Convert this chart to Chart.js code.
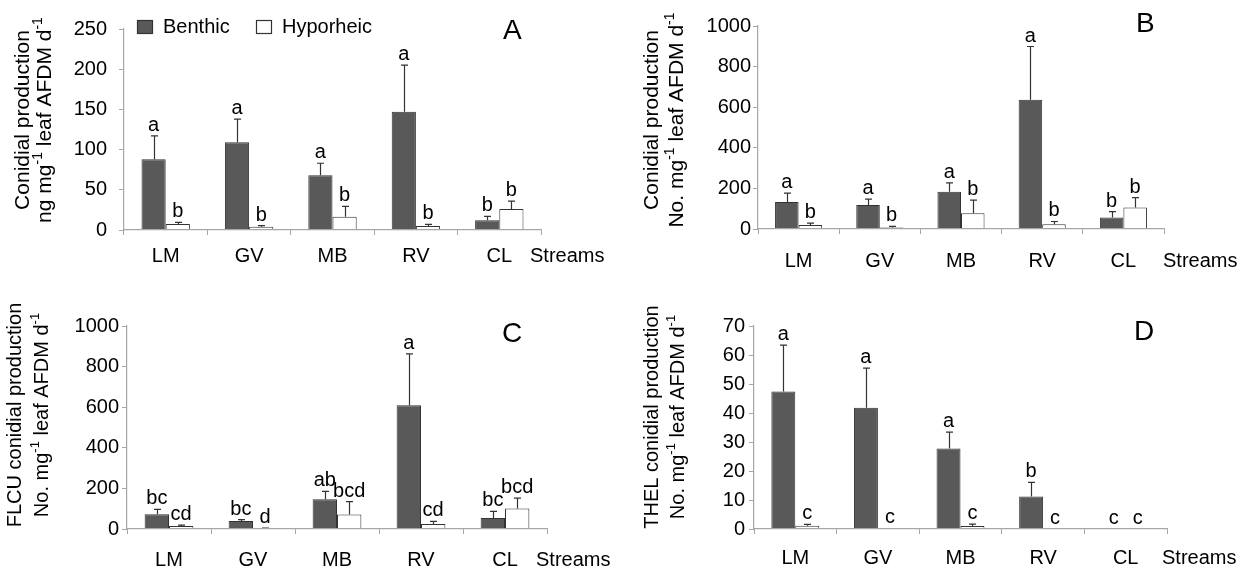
<!DOCTYPE html>
<html>
<head>
<meta charset="utf-8">
<script src="https://cdn.jsdelivr.net/npm/chart.js@4.4.0/dist/chart.umd.min.js"></script>
<style>
  html, body { margin: 0; padding: 0; background: #fff; }
  #wrap { position: relative; width: 1243px; height: 572px; }
  canvas { position: absolute; }
</style>
</head>
<body>
<div id="wrap">
  <canvas id="cA" width="621" height="286" style="left:0;top:0;width:621px;height:286px"></canvas>
  <canvas id="cB" width="622" height="286" style="left:621px;top:0;width:622px;height:286px"></canvas>
  <canvas id="cC" width="621" height="286" style="left:0;top:286px;width:621px;height:286px"></canvas>
  <canvas id="cD" width="622" height="286" style="left:621px;top:286px;width:622px;height:286px"></canvas>
</div>
<script>
// ---- data ----
const streams = ['LM', 'GV', 'MB', 'RV', 'CL'];
const seriesNames = ['Benthic', 'Hyporheic'];

// A: conidial production (ng mg-1 leaf AFDM d-1)
const benthicA    = [88, 109, 68, 147, 12];
const benthicErrA = [29, 29, 15, 58, 5];
const benthicLetA = ['a', 'a', 'a', 'a', 'b'];
const hypoA       = [7.5, 4, 16.5, 5, 26];
const hypoErrA    = [2, 1.5, 13, 2, 10];
const hypoLetA    = ['b', 'b', 'b', 'b', 'b'];
const yTicksA     = [0, 50, 100, 150, 200, 250];

// B: conidial production (No. mg-1 leaf AFDM d-1)
const benthicB    = [133, 118, 183, 637, 57];
const benthicErrB = [44, 29, 44, 262, 29];
const benthicLetB = ['a', 'a', 'a', 'a', 'b'];
const hypoB       = [20, 8, 77, 24, 106];
const hypoErrB    = [9, 5, 65, 13, 49];
const hypoLetB    = ['b', 'b', 'b', 'b', 'b'];
const yTicksB     = [0, 200, 400, 600, 800, 1000];

// C: FLCU conidial production
const benthicC    = [73, 40, 147, 610, 54];
const benthicErrC = [24, 6, 38, 253, 33];
const benthicLetC = ['bc', 'bc', 'ab', 'a', 'bc'];
const hypoC       = [15, 3, 71, 25, 101];
const hypoErrC    = [4, 2, 64, 13, 51];
const hypoLetC    = ['cd', 'd', 'bcd', 'cd', 'bcd'];
const yTicksC     = [0, 200, 400, 600, 800, 1000];

// D: THEL conidial production
const benthicD    = [47.4, 41.8, 27.8, 11.2, 0];
const benthicErrD = [16, 13.7, 5.6, 4.9, 0];
const benthicLetD = ['a', 'a', 'a', 'b', 'c'];
const hypoD       = [1.1, 0.3, 1, 0.1, 0];
const hypoErrD    = [0.5, 0, 0.7, 0, 0];
const hypoLetD    = ['c', 'c', 'c', 'c', 'c'];
const yTicksD     = [0, 10, 20, 30, 40, 50, 60, 70];

const FONT = "'Liberation Sans', Arial, Helvetica, sans-serif";
const DARK = '#595959';
const EDGE = '#333333';
const AXIS = '#a6a6a6';
const TXT = 20;

// rotated title line with "^-1" superscripts
function drawRotated(ctx, text, cx, cy, size) {
  const parts = text.split(/\^(-?\d+)/);
  const segs = parts.map((t, i) => ({ t, sup: i % 2 === 1 })).filter(s => s.t);
  let w = 0;
  segs.forEach(s => {
    ctx.font = `${s.sup ? Math.round(size * 0.65) : size}px ${FONT}`;
    s.w = ctx.measureText(s.t).width;
    w += s.w;
  });
  ctx.save();
  ctx.translate(cx, cy);
  ctx.rotate(-Math.PI / 2);
  ctx.textAlign = 'left';
  ctx.textBaseline = 'middle';
  let x = -w / 2;
  segs.forEach(s => {
    ctx.font = `${s.sup ? Math.round(size * 0.65) : size}px ${FONT}`;
    ctx.fillText(s.t, x, s.sup ? -size * 0.33 : 0);
    x += s.w;
  });
  ctx.restore();
}

const deco = {
  id: 'deco',
  afterDatasetsDraw(chart, args, o) {
    const ctx = chart.ctx, ys = chart.scales.y;
    ctx.save();
    ctx.strokeStyle = EDGE;
    ctx.lineWidth = 1.2;
    ctx.fillStyle = '#000';
    ctx.font = `${TXT}px ${FONT}`;
    ctx.textAlign = 'center';
    ctx.textBaseline = 'alphabetic';
    chart.data.datasets.forEach((ds, di) => {
      chart.getDatasetMeta(di).data.forEach((bar, i) => {
        const yTop = ys.getPixelForValue(ds.data[i] + ds.err[i]);
        const x = Math.round(bar.x) + 0.5;
        if (ds.err[i] > 0) {
          ctx.beginPath();
          ctx.moveTo(x, bar.y);
          ctx.lineTo(x, yTop);
          ctx.moveTo(x - 3.5, yTop);
          ctx.lineTo(x + 3.5, yTop);
          ctx.stroke();
        }
        ctx.fillText(ds.letters[i], bar.x, yTop - 5);
      });
    });
    ctx.restore();
  },
  afterDraw(chart, args, o) {
    const ctx = chart.ctx;
    ctx.save();
    ctx.fillStyle = '#000';
    // axis title, two lines
    o.title.forEach((line, i) => drawRotated(ctx, line, o.titleX[i], o.titleY, o.titleSize));
    // panel letter
    ctx.font = `28px ${FONT}`;
    ctx.textAlign = 'left';
    ctx.textBaseline = 'alphabetic';
    ctx.fillText(o.panel, o.panelX, o.panelY);
    // "Streams" after the last category
    ctx.font = `${TXT}px ${FONT}`;
    ctx.textBaseline = 'middle';
    ctx.fillText('Streams', o.streamsX, o.catY);
    // legend (panel A only)
    if (o.legend) {
      const fills = [DARK, '#ffffff'];
      o.legend.forEach((lg, i) => {
        ctx.fillStyle = fills[i];
        ctx.fillRect(lg.x + 0.5, 20.5, 15, 13);
        ctx.strokeStyle = EDGE;
        ctx.lineWidth = 1.2;
        ctx.strokeRect(lg.x + 0.5, 20.5, 15, 13);
        ctx.fillStyle = '#000';
        ctx.font = `${TXT}px ${FONT}`;
        ctx.fillText(seriesNames[i], lg.x + 26, 27);
      });
    }
    ctx.restore();
  }
};

function makePanel(id, L, benthic, bErr, bLet, hypo, hErr, hLet, yTicks, title) {
  const canvas = document.getElementById(id);
  const W = canvas.width, H = canvas.height;
  const xH = 40;
  new Chart(canvas, {
    type: 'bar',
    data: {
      labels: streams,
      datasets: [
        { label: seriesNames[0], data: benthic, err: bErr, letters: bLet,
          backgroundColor: DARK, borderColor: EDGE, borderWidth: 1 },
        { label: seriesNames[1], data: hypo, err: hErr, letters: hLet,
          backgroundColor: '#ffffff', borderColor: EDGE, borderWidth: 1 }
      ]
    },
    options: {
      responsive: false,
      animation: false,
      events: [],
      layout: { padding: { left: 0, top: L.t, right: W - L.r, bottom: H - L.b - xH } },
      datasets: { bar: { categoryPercentage: 0.58, barPercentage: 1.0 } },
      plugins: {
        legend: { display: false },
        tooltip: { enabled: false },
        deco: {
          title, titleX: L.titleX, titleY: L.titleY, titleSize: L.titleSize,
          panel: L.panel, panelX: L.panelX, panelY: L.panelY,
          streamsX: L.streamsX, catY: L.catY, legend: L.legend
        }
      },
      scales: {
        x: {
          afterFit: s => { s.height = xH; },
          grid: { drawOnChartArea: false, drawTicks: true, tickLength: 5, color: AXIS, offset: true },
          border: { display: true, color: AXIS, width: 1.2, z: 1 },
          ticks: { color: '#000', font: { family: FONT, size: TXT }, padding: L.catY - L.b - 5 - TXT * 0.6, maxRotation: 0 }
        },
        y: {
          min: yTicks[0],
          max: yTicks[yTicks.length - 1],
          afterFit: s => { s.width = L.l; },
          afterBuildTicks: s => { s.ticks = yTicks.map(v => ({ value: v })); },
          grid: { drawOnChartArea: false, drawTicks: true, tickLength: 5, color: AXIS },
          border: { display: true, color: AXIS, width: 1.2, z: 1 },
          ticks: { color: '#000', font: { family: FONT, size: TXT }, padding: L.yPad, callback: v => String(v) }
        }
      }
    },
    plugins: [deco]
  });
}

makePanel('cA', { l: 124, r: 541, t: 29, b: 230, yPad: 12, titleX: [23, 45], titleY: 120, titleSize: 21,
  panel: 'A', panelX: 503, panelY: 39, streamsX: 530, catY: 256,
  legend: [{ x: 137 }, { x: 256 }] },
  benthicA, benthicErrA, benthicLetA, hypoA, hypoErrA, hypoLetA, yTicksA,
  ['Conidial production', 'ng mg^-1 leaf AFDM d^-1']);

makePanel('cB', { l: 137, r: 543, t: 26, b: 229, yPad: 2, titleX: [31, 56], titleY: 120, titleSize: 21,
  panel: 'B', panelX: 515, panelY: 32, streamsX: 542, catY: 261 },
  benthicB, benthicErrB, benthicLetB, hypoB, hypoErrB, hypoLetB, yTicksB,
  ['Conidial production', 'No. mg^-1 leaf AFDM d^-1']);

makePanel('cC', { l: 127, r: 547, t: 40, b: 243, yPad: 3, titleX: [15, 42], titleY: 129, titleSize: 20,
  panel: 'C', panelX: 502, panelY: 56, streamsX: 536, catY: 274 },
  benthicC, benthicErrC, benthicLetC, hypoC, hypoErrC, hypoLetC, yTicksC,
  ['FLCU conidial production', 'No. mg^-1 leaf AFDM d^-1']);

makePanel('cD', { l: 133, r: 546, t: 40, b: 243, yPad: 4, titleX: [31, 57], titleY: 131, titleSize: 20,
  panel: 'D', panelX: 513, panelY: 54, streamsX: 541, catY: 272 },
  benthicD, benthicErrD, benthicLetD, hypoD, hypoErrD, hypoLetD, yTicksD,
  ['THEL conidial production', 'No. mg^-1 leaf AFDM d^-1']);
</script>
</body>
</html>
